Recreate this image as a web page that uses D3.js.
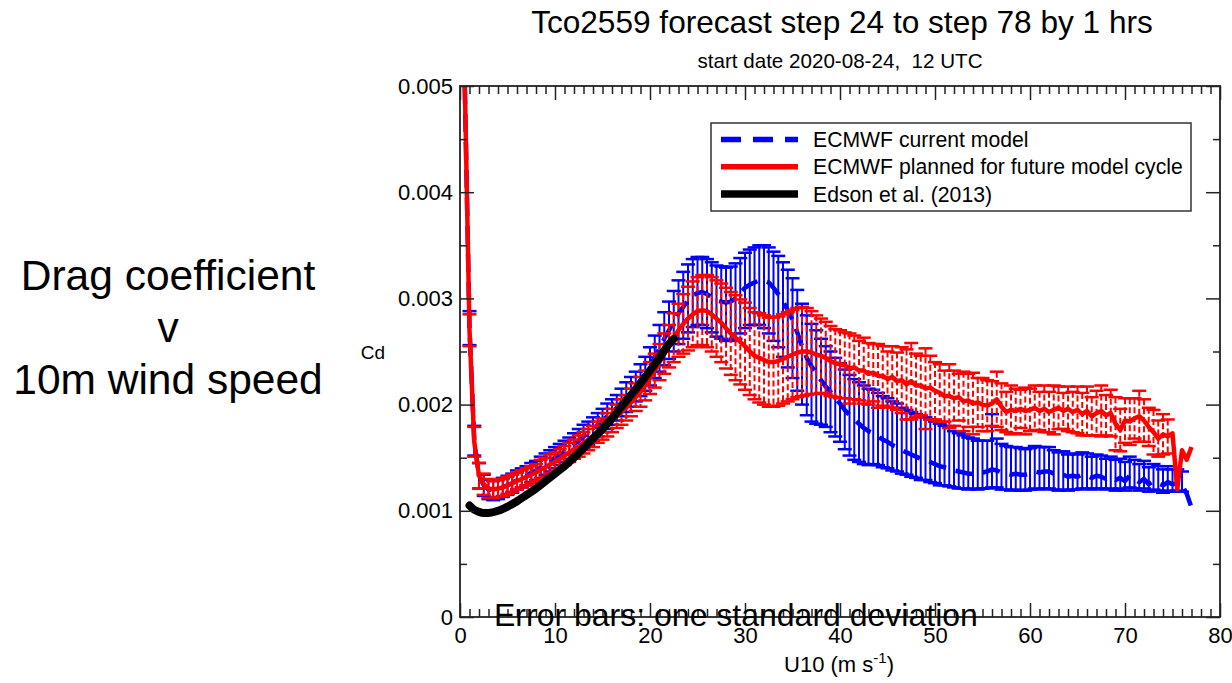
<!DOCTYPE html>
<html><head><meta charset="utf-8">
<script src="https://cdn.jsdelivr.net/npm/d3@7"></script>
<style>
body{margin:0;background:#fff}
text{font-family:"Liberation Sans",Arial,Helvetica,sans-serif;fill:#000}
</style>
</head><body>
<svg id="chart" width="1232" height="683"></svg>
<script>
// ---------- DATA (Cd in units of 1e-3, wind bins of 0.5 m/s from 0.5 to 77) ----------
const windSpeed = d3.range(0.5, 77.01, 0.5);

const redMean = [
5.05,2.70,1.65,1.33,1.25,1.21,1.20,1.21,1.22,1.24,
1.26,1.28,1.30,1.32,1.34,1.36,1.39,1.41,1.44,1.46,
1.49,1.52,1.55,1.58,1.61,1.64,1.67,1.70,1.74,1.77,
1.81,1.85,1.89,1.93,1.97,2.02,2.07,2.12,2.18,2.25,
2.32,2.40,2.48,2.55,2.63,2.70,2.76,2.81,2.85,2.88,
2.89,2.88,2.85,2.81,2.77,2.72,2.67,2.63,2.59,2.55,
2.50,2.46,2.44,2.42,2.40,2.40,2.41,2.43,2.45,2.47,
2.49,2.50,2.50,2.49,2.47,2.46,2.44,2.41,2.39,2.38,
2.37,2.34,2.35,2.32,2.32,2.29,2.30,2.27,2.27,2.24,
2.26,2.22,2.23,2.19,2.22,2.18,2.18,2.15,2.16,2.13,
2.11,2.08,2.08,2.06,2.07,2.03,2.04,2.01,2.02,2.00,
1.99,2.01,2.05,1.98,1.93,1.95,1.94,1.96,1.94,1.95,
1.97,1.94,1.96,1.93,1.95,1.97,1.94,1.96,1.93,1.95,
1.91,1.94,1.89,1.92,1.94,1.90,1.92,1.82,1.76,1.85,
1.84,1.87,1.89,1.85,1.79,1.74,1.68,1.72,1.70,1.73,
1.20,1.57,1.48,1.60];

const redStd = [
0,0.15,0.14,0.12,0.10,0.09,0.08,0.08,0.08,0.08,
0.08,0.08,0.08,0.08,0.08,0.08,0.09,0.09,0.09,0.09,
0.09,0.09,0.09,0.09,0.10,0.10,0.10,0.10,0.10,0.10,
0.11,0.11,0.11,0.12,0.12,0.13,0.13,0.14,0.14,0.15,
0.16,0.17,0.19,0.20,0.23,0.25,0.28,0.30,0.31,0.32,
0.33,0.34,0.35,0.36,0.37,0.38,0.39,0.40,0.40,0.41,
0.41,0.41,0.42,0.42,0.42,0.42,0.42,0.42,0.42,0.42,
0.42,0.42,0.41,0.39,0.37,0.35,0.34,0.33,0.32,0.32,
0.31,0.33,0.30,0.28,0.31,0.29,0.27,0.30,0.28,0.26,
0.29,0.27,0.31,0.33,0.36,0.30,0.28,0.38,0.30,0.27,
0.27,0.24,0.30,0.26,0.22,0.28,0.25,0.29,0.23,0.25,
0.24,0.21,0.26,0.22,0.19,0.23,0.21,0.18,0.22,0.20,
0.21,0.18,0.22,0.19,0.23,0.20,0.17,0.21,0.19,0.22,
0.20,0.23,0.18,0.21,0.24,0.19,0.22,0.25,0.20,0.21,
0.22,0.19,0.24,0.20,0.18,0.21,0.17,0.19,0.16,0,
0,0,0,0];

const blueMean = [
5.00,2.72,1.66,1.33,1.24,1.20,1.19,1.20,1.22,1.24,
1.26,1.29,1.31,1.33,1.36,1.38,1.41,1.44,1.47,1.50,
1.53,1.56,1.59,1.63,1.66,1.70,1.73,1.77,1.81,1.85,
1.89,1.93,1.97,2.02,2.07,2.12,2.17,2.23,2.29,2.36,
2.45,2.53,2.62,2.70,2.78,2.86,2.92,2.98,3.03,3.05,
3.06,3.04,3.01,2.98,2.97,2.96,2.97,3.00,3.05,3.10,
3.13,3.15,3.17,3.17,3.15,3.10,3.04,2.97,2.89,2.80,
2.68,2.55,2.44,2.36,2.30,2.23,2.17,2.12,2.06,2.01,
1.95,1.90,1.86,1.82,1.78,1.75,1.73,1.70,1.67,1.65,
1.62,1.60,1.57,1.55,1.53,1.51,1.49,1.48,1.46,1.44,
1.42,1.41,1.40,1.38,1.37,1.36,1.35,1.35,1.34,1.36,
1.37,1.39,1.38,1.36,1.35,1.34,1.35,1.34,1.34,1.35,
1.37,1.36,1.37,1.37,1.35,1.33,1.34,1.32,1.33,1.32,
1.34,1.33,1.31,1.33,1.32,1.30,1.32,1.29,1.31,1.28,
1.33,1.30,1.27,1.30,1.25,1.28,1.26,1.24,1.27,1.25,
1.26,1.24,1.16,1.03];

const blueStdUp = [
0,0.16,0.14,0.12,0.10,0.09,0.09,0.09,0.09,0.09,
0.09,0.09,0.09,0.09,0.09,0.09,0.10,0.10,0.10,0.10,
0.10,0.10,0.10,0.10,0.11,0.11,0.11,0.11,0.11,0.11,
0.12,0.12,0.12,0.13,0.14,0.14,0.14,0.15,0.16,0.18,
0.20,0.22,0.25,0.27,0.29,0.31,0.33,0.34,0.34,0.34,
0.33,0.33,0.33,0.33,0.33,0.33,0.33,0.33,0.33,0.33,
0.33,0.33,0.33,0.33,0.33,0.34,0.36,0.37,0.38,0.39,
0.40,0.40,0.40,0.40,0.40,0.39,0.38,0.38,0.38,0.38,
0.38,0.38,0.38,0.39,0.40,0.40,0.41,0.41,0.41,0.41,
0.41,0.41,0.40,0.40,0.40,0.40,0.40,0.40,0.40,0.40,
0.40,0.39,0.38,0.37,0.36,0.35,0.34,0.33,0.32,0.30,
0.29,0.52,0.30,0.27,0.26,0.26,0.25,0.25,0.24,0.24,
0.24,0.24,0.23,0.23,0.22,0.22,0.22,0.21,0.21,0.21,
0.21,0.21,0.20,0.20,0.20,0.19,0.19,0.19,0.18,0.18,
0.18,0.18,0.17,0.17,0.16,0.16,0.16,0.15,0.15,0.14,
0.13,0.13,0,0];

const blueStdDown = [
0,0.16,0.14,0.12,0.10,0.09,0.09,0.09,0.09,0.09,
0.09,0.09,0.09,0.09,0.09,0.09,0.10,0.10,0.10,0.10,
0.10,0.10,0.10,0.10,0.11,0.11,0.11,0.11,0.11,0.11,
0.12,0.12,0.12,0.13,0.14,0.14,0.14,0.15,0.16,0.18,
0.20,0.22,0.25,0.27,0.28,0.29,0.30,0.30,0.30,0.30,
0.31,0.32,0.33,0.34,0.35,0.36,0.37,0.38,0.38,0.38,
0.38,0.40,0.42,0.45,0.48,0.50,0.50,0.52,0.54,0.55,
0.55,0.55,0.54,0.52,0.48,0.42,0.38,0.38,0.36,0.36,
0.37,0.38,0.38,0.36,0.34,0.32,0.29,0.27,0.26,0.25,
0.24,0.23,0.22,0.21,0.21,0.20,0.20,0.19,0.19,0.18,
0.18,0.17,0.17,0.16,0.16,0.15,0.15,0.14,0.14,0.15,
0.16,0.17,0.16,0.16,0.15,0.15,0.15,0.15,0.15,0.15,
0.16,0.16,0.16,0.16,0.15,0.14,0.14,0.13,0.13,0.12,
0.13,0.12,0.11,0.12,0.11,0.10,0.11,0.10,0.10,0.09,
0.11,0.09,0.08,0.09,0.07,0.08,0.07,0.07,0.08,0.07,
0.07,0.06,0,0];

const edsonWind = [1,1.5,2,2.5,3,4,5,6,7,8,9,10,11,12,13,14,15,16,17,18,19,20,21,22,22.5];
const edsonCd   = [1.05,1.01,0.99,0.98,0.98,1.00,1.04,1.09,1.15,1.21,1.28,1.35,1.42,1.50,1.59,1.68,1.77,1.87,1.98,2.09,2.20,2.32,2.44,2.57,2.62];

const refLevel = 2.40;   // dashed annotation level (1e-3)
const refStartWind = 27;

const xTicks = [0,10,20,30,40,50,60,70,80];
const yTicks = [0,0.001,0.002,0.003,0.004,0.005];

const legendLabels = ["ECMWF current model","ECMWF planned for future model cycle","Edson et al. (2013)"];
const titleText = "Tco2559 forecast step 24 to step 78 by 1 hrs";
const subtitleText = "start date 2020-08-24,  12 UTC";
const sideText = ["Drag coefficient","v","10m wind speed"];
const noteText = "Error bars: one standard deviation";

// ---------- DRAW ----------
const svg = d3.select("#chart");
const L=460, R=1220, T=86, B=617;
const x = d3.scaleLinear([0,80],[L,R]);
const y = d3.scaleLinear([0,0.005],[B,T]);
const S = 1e-3;
const BLUE="#0000ff", RED="#ff0000";

const defs = svg.append("defs");
defs.append("clipPath").attr("id","plotclip").append("rect")
  .attr("x",L).attr("y",T).attr("width",R-L).attr("height",B-T);
const f = defs.append("filter").attr("id","shadow").attr("x","-20%").attr("y","-200%").attr("width","140%").attr("height","500%");
f.append("feDropShadow").attr("dx",0).attr("dy",4).attr("stdDeviation",2.5)
  .attr("flood-color","#888").attr("flood-opacity",0.55);

const plot = svg.append("g").attr("clip-path","url(#plotclip)");

function errorBars(g, mean, up, down, color, dash){
  const data = windSpeed.map((w,i)=>({w, m:mean[i], u:up[i], d:down[i]})).filter(o=>o.u>0||o.d>0);
  const gg = g.append("g");
  gg.selectAll("line.v").data(data).join("line")
    .attr("x1",o=>x(o.w)).attr("x2",o=>x(o.w))
    .attr("y1",o=>y((o.m+o.u)*S)).attr("y2",o=>y((o.m-o.d)*S))
    .attr("stroke",color).attr("stroke-width",2)
    .attr("stroke-dasharray",dash||null);
  const cw=7;
  gg.selectAll("line.t").data(data).join("line")
    .attr("x1",o=>x(o.w)-cw).attr("x2",o=>x(o.w)+cw)
    .attr("y1",o=>y((o.m+o.u)*S)).attr("y2",o=>y((o.m+o.u)*S))
    .attr("stroke",color).attr("stroke-width",2.5);
  gg.selectAll("line.b").data(data).join("line")
    .attr("x1",o=>x(o.w)-cw).attr("x2",o=>x(o.w)+cw)
    .attr("y1",o=>y((o.m-o.d)*S)).attr("y2",o=>y((o.m-o.d)*S))
    .attr("stroke",color).attr("stroke-width",2.5);
}
const line = d3.line().x(d=>x(d[0])).y(d=>y(d[1]*S));

errorBars(plot, blueMean, blueStdUp, blueStdDown, BLUE, null);
plot.append("path").datum(windSpeed.map((w,i)=>[w,blueMean[i]]))
  .attr("d",line).attr("fill","none").attr("stroke",BLUE).attr("stroke-width",4.5)
  .attr("stroke-dasharray","18,10").attr("stroke-linejoin","round");
errorBars(plot, redMean, redStd, redStd, RED, "6,3");
plot.append("path").datum(windSpeed.map((w,i)=>[w,redMean[i]]))
  .attr("d",line).attr("fill","none").attr("stroke",RED).attr("stroke-width",4.5)
  .attr("stroke-linejoin","round");
plot.append("path").datum(edsonWind.map((w,i)=>[w,edsonCd[i]]))
  .attr("d",line.curve(d3.curveMonotoneX)).attr("fill","none").attr("stroke","#000").attr("stroke-width",8)
  .attr("stroke-linecap","round");

// axes
const AX="#222";
function styleAxis(g){ g.select(".domain").remove(); g.selectAll(".tick line").attr("stroke",AX).attr("stroke-width",1.5);
  g.selectAll(".tick text").attr("font-size",22).attr("font-family",'"Liberation Sans",Arial,sans-serif').attr("fill","#000"); }
const xMinor = d3.range(0,81,1).filter(v=>v%10!==0);
const yMinor = [0.0005,0.0015,0.0025,0.0035,0.0045];
const yFmt = d=> d===0?"0":d3.format(".3f")(d);

svg.append("g").attr("transform",`translate(0,${B})`)
  .call(d3.axisBottom(x).tickValues(xTicks).tickSize(-14).tickPadding(10)).call(styleAxis);
svg.append("g").attr("transform",`translate(0,${B})`)
  .call(d3.axisBottom(x).tickValues(xMinor).tickSize(-8).tickFormat("")).call(styleAxis);
svg.append("g").attr("transform",`translate(0,${T})`)
  .call(d3.axisTop(x).tickValues(xTicks).tickSize(-14).tickFormat("")).call(styleAxis);
svg.append("g").attr("transform",`translate(0,${T})`)
  .call(d3.axisTop(x).tickValues(xMinor).tickSize(-8).tickFormat("")).call(styleAxis);
svg.append("g").attr("transform",`translate(${L},0)`)
  .call(d3.axisLeft(y).tickValues(yTicks).tickSize(-14).tickPadding(7).tickFormat(yFmt)).call(styleAxis);
svg.append("g").attr("transform",`translate(${L},0)`)
  .call(d3.axisLeft(y).tickValues(yMinor).tickSize(-7).tickFormat("")).call(styleAxis);
svg.append("g").attr("transform",`translate(${R},0)`)
  .call(d3.axisRight(y).tickValues(yTicks).tickSize(-14).tickFormat("")).call(styleAxis);
svg.append("g").attr("transform",`translate(${R},0)`)
  .call(d3.axisRight(y).tickValues(yMinor).tickSize(-7).tickFormat("")).call(styleAxis);
svg.append("rect").attr("x",L).attr("y",T).attr("width",R-L).attr("height",B-T)
  .attr("fill","none").attr("stroke",AX).attr("stroke-width",1.8);

// legend
const lg = svg.append("g");
lg.append("rect").attr("x",711).attr("y",123).attr("width",480).attr("height",88)
  .attr("fill","#fff").attr("stroke","#333").attr("stroke-width",1.5);
const lstyles=[{c:BLUE,w:5.5,d:"20,12"},{c:RED,w:5.5,d:null},{c:"#000",w:7.5,d:null}];
legendLabels.forEach((t,i)=>{
  const yy = 139.5 + i*27.3;
  lg.append("line").attr("x1",721).attr("x2",798).attr("y1",yy).attr("y2",yy)
    .attr("stroke",lstyles[i].c).attr("stroke-width",lstyles[i].w).attr("stroke-dasharray",lstyles[i].d);
  lg.append("text").attr("x",813).attr("y",yy).attr("dy","0.36em").attr("font-size",21.2).text(t);
});

// dashed annotation
svg.append("line").attr("x1",x(refStartWind)).attr("x2",1232).attr("y1",y(refLevel*S)).attr("y2",y(refLevel*S))
  .attr("stroke","#000").attr("stroke-width",5).attr("stroke-dasharray","17,12")
  .attr("filter","url(#shadow)");

// texts
svg.append("text").attr("x",842).attr("y",33).attr("text-anchor","middle").attr("font-size",31.6).text(titleText);
svg.append("text").attr("x",840).attr("y",68).attr("text-anchor","middle").attr("font-size",20.6)
  .style("white-space","pre").text(subtitleText);
svg.append("text").attr("x",373).attr("y",352).attr("dy","0.35em").attr("text-anchor","middle").attr("font-size",19).text("Cd");
const xl = svg.append("text").attr("x",839).attr("y",672).attr("text-anchor","middle").attr("font-size",22);
xl.append("tspan").text("U10 (m s");
xl.append("tspan").attr("font-size",15).attr("dy",-9).text("-1");
xl.append("tspan").attr("dy",9).text(")");
sideText.forEach((t,i)=>svg.append("text").attr("x",168).attr("y",290+i*52).attr("text-anchor","middle").attr("font-size",42.5).text(t));
svg.append("text").attr("x",494).attr("y",626).attr("font-size",32).text(noteText);
</script>
</body></html>
